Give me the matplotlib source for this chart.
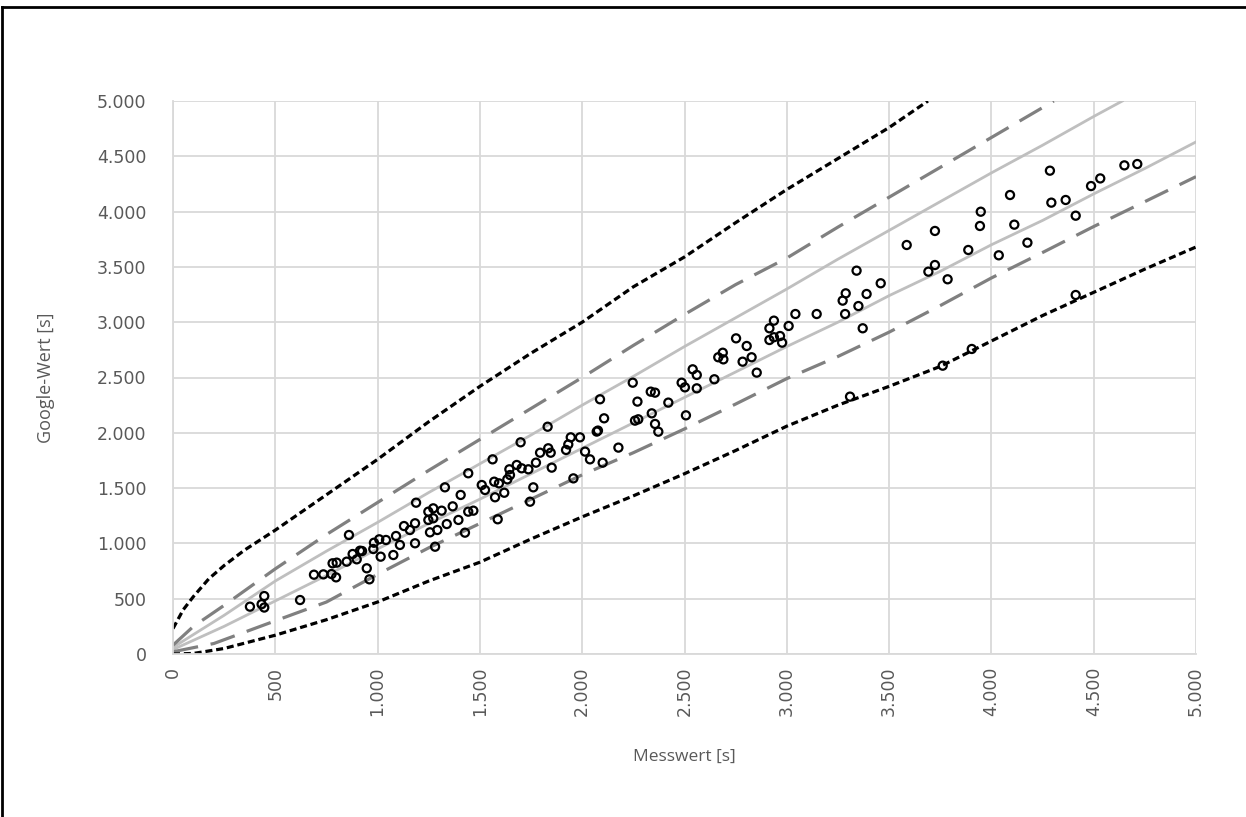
import matplotlib
matplotlib.use('Agg')
import matplotlib.pyplot as plt
from matplotlib.ticker import FuncFormatter, MultipleLocator
from matplotlib.lines import Line2D

# Messwert vs. Google-Wert (Sekunden)
mess = [376, 433, 446, 446, 621, 689, 735, 775, 797, 780, 800, 849, 860, 878, 898, 914, 924,
        947, 960, 979, 982, 1008, 1015, 1041, 1077, 1090, 1109, 1129, 1158, 1183, 1183, 1188,
        1248, 1248, 1256, 1272, 1272, 1292, 1281, 1313, 1329, 1338, 1367, 1395, 1406, 1427,
        1443, 1443, 1468, 1509, 1525, 1562, 1570, 1574, 1587, 1593, 1619, 1634, 1647, 1644,
        1680, 1699, 1704, 1737, 1745, 1761, 1774, 1794, 1831, 1834, 1846, 1851, 1921, 1932,
        1944, 1957, 1989, 2014, 2038, 2071, 2077, 2087, 2100, 2107, 2177, 2247, 2258, 2270,
        2274, 2335, 2340, 2356, 2356, 2372, 2421, 2486, 2502, 2507, 2540, 2560, 2560, 2646,
        2665, 2687, 2690, 2752, 2784, 2804, 2828, 2853, 2915, 2915, 2937, 2937, 2967, 2977,
        3009, 3042, 3146, 3285, 3273, 3309, 3350, 3288, 3341, 3371, 3390, 3459, 3586, 3692,
        3724, 3724, 3786, 3762, 3904, 3887, 3944, 3948, 4036, 4112, 4091, 4176, 4286, 4293,
        4363, 4412, 4412, 4487, 4532, 4650, 4713]
google = [428, 450, 524, 420, 488, 717, 720, 723, 693, 820, 826, 835, 1076, 904, 856, 934, 931,
          775, 675, 949, 1006, 1037, 880, 1031, 895, 1067, 986, 1157, 1121, 1182, 1001, 1368,
          1287, 1212, 1100, 1317, 1227, 1121, 970, 1296, 1507, 1175, 1335, 1212, 1438, 1097,
          1634, 1287, 1296, 1528, 1483, 1760, 1558, 1417, 1218, 1543, 1458, 1579, 1618, 1670,
          1709, 1914, 1679, 1670, 1377, 1507, 1730, 1820, 2055, 1860, 1820, 1685, 1845, 1895,
          1959, 1588, 1959, 1830, 1760, 2011, 2020, 2303, 1730, 2131, 1866, 2453, 2110, 2282,
          2122, 2372, 2176, 2363, 2080, 2010, 2273, 2453, 2411, 2158, 2574, 2523, 2402, 2484,
          2683, 2724, 2664, 2854, 2643, 2785, 2683, 2544, 2839, 2945, 3014, 2864, 2875, 2815,
          2966, 3074, 3074, 3074, 3195, 2327, 3146, 3261, 3466, 2945, 3255, 3352, 3698, 3457,
          3517, 3825, 3388, 2607, 2758, 3653, 3870, 3999, 3605, 3882, 4150, 3719, 4370, 4081,
          4105, 3963, 3246, 4231, 4300, 4418, 4430]

# Grenzkurven
x_dot_o = [0, 50, 100, 175, 250, 350, 500, 750, 1000, 1250, 1500, 1750, 2000, 2250, 2500, 2750, 3000,
           3250, 3500, 3690]
y_dot_o = [230, 400, 520, 680, 800, 940, 1120, 1440, 1760, 2100, 2420, 2720, 3000, 3320, 3590, 3900, 4200,
           4480, 4760, 5000]
x_dot_u = [0, 100, 250, 500, 750, 1000, 1250, 1500, 1750, 2000, 2250, 2500, 2750, 3000, 3250, 3500, 3750,
           4000, 4250, 4500, 4750, 5000]
y_dot_u = [0, 5, 50, 170, 310, 470, 660, 830, 1040, 1240, 1430, 1630, 1840, 2060, 2250, 2420, 2600,
           2830, 3060, 3270, 3480, 3680]
x_dash_o = [0, 100, 250, 500, 750, 1000, 1250, 1500, 1750, 2000, 2250, 2500, 2750, 3000, 3250, 3500, 3750,
            4000, 4250, 4305]
y_dash_o = [80, 250, 440, 770, 1080, 1370, 1660, 1940, 2220, 2500, 2790, 3070, 3340, 3580, 3860, 4130, 4400,
            4670, 4940, 5000]
x_dash_u = [0, 200, 500, 750, 1000, 1250, 1500, 1750, 2000, 2250, 2500, 2750, 3000, 3250, 3500, 3750, 4000,
            4250, 4500, 4750, 5000]
y_dash_u = [20, 95, 300, 470, 720, 960, 1180, 1400, 1620, 1820, 2035, 2260, 2490, 2690, 2910, 3150, 3400,
            3630, 3865, 4090, 4316]
x_sol_o = [0, 250, 500, 750, 1000, 1250, 1500, 1750, 2000, 2250, 2500, 2750, 3000, 3250, 3500, 3750, 4000,
           4250, 4500, 4640]
y_sol_o = [60, 350, 660, 930, 1190, 1460, 1720, 1980, 2250, 2510, 2780, 3040, 3300, 3570, 3830, 4090, 4350,
           4600, 4860, 5000]
x_sol_u = [0, 250, 500, 750, 1000, 1250, 1500, 1750, 2000, 2250, 2500, 2750, 3000, 3250, 3500, 3750, 4000,
           4250, 4500, 4750, 5000]
y_sol_u = [40, 250, 480, 710, 950, 1180, 1400, 1630, 1860, 2090, 2320, 2550, 2780, 3000, 3240, 3460, 3700,
           3920, 4160, 4390, 4630]

plt.rcParams['font.family'] = ['Open Sans', 'DejaVu Sans']

fig = plt.figure(figsize=(12.46, 8.17), dpi=100)
ax = fig.add_axes([173 / 1246, 1 - 654 / 817, (1196 - 173) / 1246, (654 - 101) / 817])

ax.plot(x_sol_o, y_sol_o, color='#bfbfbf', lw=2.0, zorder=2)
ax.plot(x_sol_u, y_sol_u, color='#bfbfbf', lw=2.0, zorder=2)
ax.plot(x_dash_o, y_dash_o, color='#808080', lw=2.3, dashes=(8, 4), zorder=2)
ax.plot(x_dash_u, y_dash_u, color='#808080', lw=2.3, dashes=(8, 4), zorder=2)
ax.plot(x_dot_o, y_dot_o, color='black', lw=2.3, dashes=(2.2, 1.2), zorder=2)
ax.plot(x_dot_u, y_dot_u, color='black', lw=2.3, dashes=(2.2, 1.2), zorder=2)

ax.scatter(mess, google, s=34, facecolors='none', edgecolors='black', linewidths=1.6, zorder=3)

ax.set_xlim(0, 5000)
ax.set_ylim(0, 5000)
ax.xaxis.set_major_locator(MultipleLocator(500))
ax.yaxis.set_major_locator(MultipleLocator(500))
fmt = FuncFormatter(lambda v, p: f"{int(v):,}".replace(',', '.'))
ax.xaxis.set_major_formatter(fmt)
ax.yaxis.set_major_formatter(fmt)
ax.grid(True, color='#d9d9d9', lw=1.3, zorder=0)
ax.set_axisbelow(True)
for s in ['top', 'right']:
    ax.spines[s].set_visible(False)
for s in ['left', 'bottom']:
    ax.spines[s].set_color('#d9d9d9')
    ax.spines[s].set_linewidth(1.3)
ax.tick_params(length=0, colors='#595959', labelsize=12.5)
ax.tick_params(axis='x', pad=9)
ax.tick_params(axis='y', pad=19)
for lbl in ax.get_xticklabels() + ax.get_yticklabels():
    lbl.set_family('DejaVu Sans')
plt.setp(ax.get_xticklabels(), rotation=90)

ax.set_xlabel('Messwert [s]', fontsize=12.5, color='#595959', labelpad=24, family='Open Sans')
ax.set_ylabel('Google-Wert [s]', fontsize=13, color='#595959', labelpad=30, family='Open Sans')

# Rahmen oben und links
fig.add_artist(Line2D([0.002, 0.002], [0, 0.992], color='black', lw=2))
fig.add_artist(Line2D([0.002, 1], [0.992, 0.992], color='black', lw=2))

fig.savefig('out.png', dpi=100)
